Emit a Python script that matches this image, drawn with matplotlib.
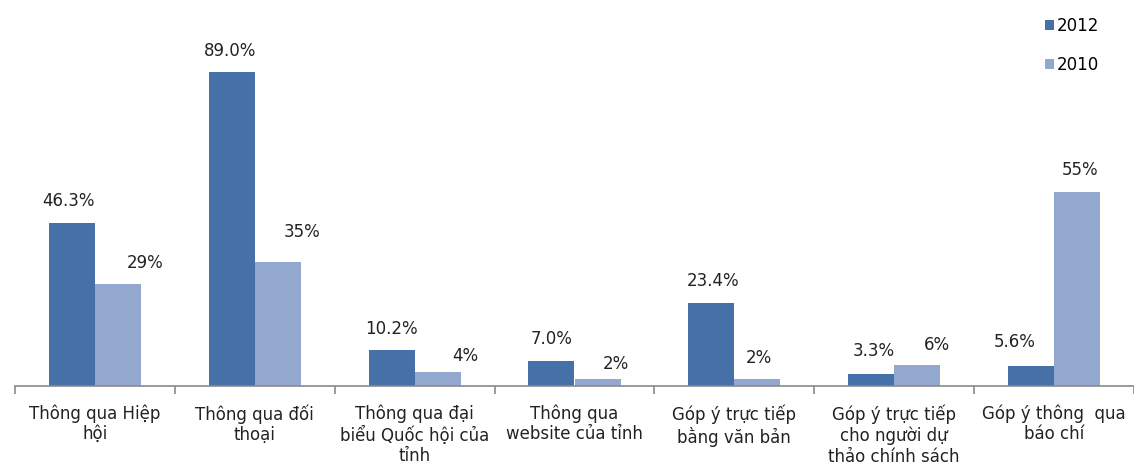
import matplotlib
matplotlib.use("Agg")
import matplotlib.pyplot as plt
import numpy as np

plt.rcParams['font.family'] = ['DejaVu Sans']

categories = [
    "Thông qua Hiệp\nhội",
    "Thông qua đối\nthoại",
    "Thông qua đại\nbiểu Quốc hội của\ntỉnh",
    "Thông qua\nwebsite của tỉnh",
    "Góp ý trực tiếp\nbằng văn bản",
    "Góp ý trực tiếp\ncho người dự\nthảo chính sách",
    "Góp ý thông  qua\nbáo chí",
]
series_names = ["2012", "2010"]
values_2012 = [46.3, 89.0, 10.2, 7.0, 23.4, 3.3, 5.6]
values_2010 = [29, 35, 4, 2, 2, 6, 55]
labels_2012 = ["46.3%", "89.0%", "10.2%", "7.0%", "23.4%", "3.3%", "5.6%"]
labels_2010 = ["29%", "35%", "4%", "2%", "2%", "6%", "55%"]

# label nudges (pixels): horizontal shift from bar centre, height of label centre above bar top
nudge_x_2012 = [-3.5, -2, 0, 0, 2, 3, -16]
nudge_y_2012 = [22, 21, 21, 22, 22, 23, 24]
nudge_x_2010 = [27, 24, 28, 18, 1.5, 20, 2.5]
nudge_y_2010 = [21, 30, 16, 15, 21, 20, 22]

color_2012 = "#4571A8"
color_2010 = "#93A8CF"
axis_color = "#8A8A8A"

W, H = 1134, 469
fig = plt.figure(figsize=(W / 100, H / 100), dpi=100)
ax = fig.add_axes([15 / W, 1 - 386 / H, (W - 15) / W, 353 / H])

x = np.arange(len(categories))
bw = 0.288
b1 = ax.bar(x - bw / 2, values_2012, width=bw, color=color_2012, label=series_names[0])
b2 = ax.bar(x + bw / 2, values_2010, width=bw, color=color_2010, label=series_names[1])

ax.set_xlim(-0.5, len(categories) - 0.5)
ax.set_ylim(0, 100)

for rects, labs, nx, ny in ((b1, labels_2012, nudge_x_2012, nudge_y_2012),
                            (b2, labels_2010, nudge_x_2010, nudge_y_2010)):
    for r, lab, dx, dy in zip(rects, labs, nx, ny):
        ax.annotate(lab, (r.get_x() + r.get_width() / 2, r.get_height()),
                    xytext=(dx, dy), textcoords="offset pixels",
                    ha="center", va="center", fontsize=12, color="#222222")

for s in ("top", "right", "left"):
    ax.spines[s].set_visible(False)
ax.spines["bottom"].set_color(axis_color)
ax.spines["bottom"].set_linewidth(1.2)
ax.set_yticks([])

# boundary ticks between categories
ax.set_xticks(np.arange(len(categories) + 1) - 0.5, minor=True)
ax.tick_params(axis="x", which="minor", length=6, width=1.2, color=axis_color, direction="out")
ax.set_xticks(x)
ax.set_xticklabels(categories, fontsize=12, color="#222222", linespacing=1.2, va="top")
ax.tick_params(axis="x", which="major", length=0, pad=13)

leg = ax.legend(handles=[b1, b2], loc="upper left", bbox_to_anchor=(1028 / W, 1.0), bbox_transform=fig.transFigure,
                frameon=False, fontsize=12, handlelength=0.55, handleheight=0.55,
                handletextpad=0.2, labelspacing=1.3, borderaxespad=0.6)

fig.savefig("out.png", dpi=100, facecolor="white")
